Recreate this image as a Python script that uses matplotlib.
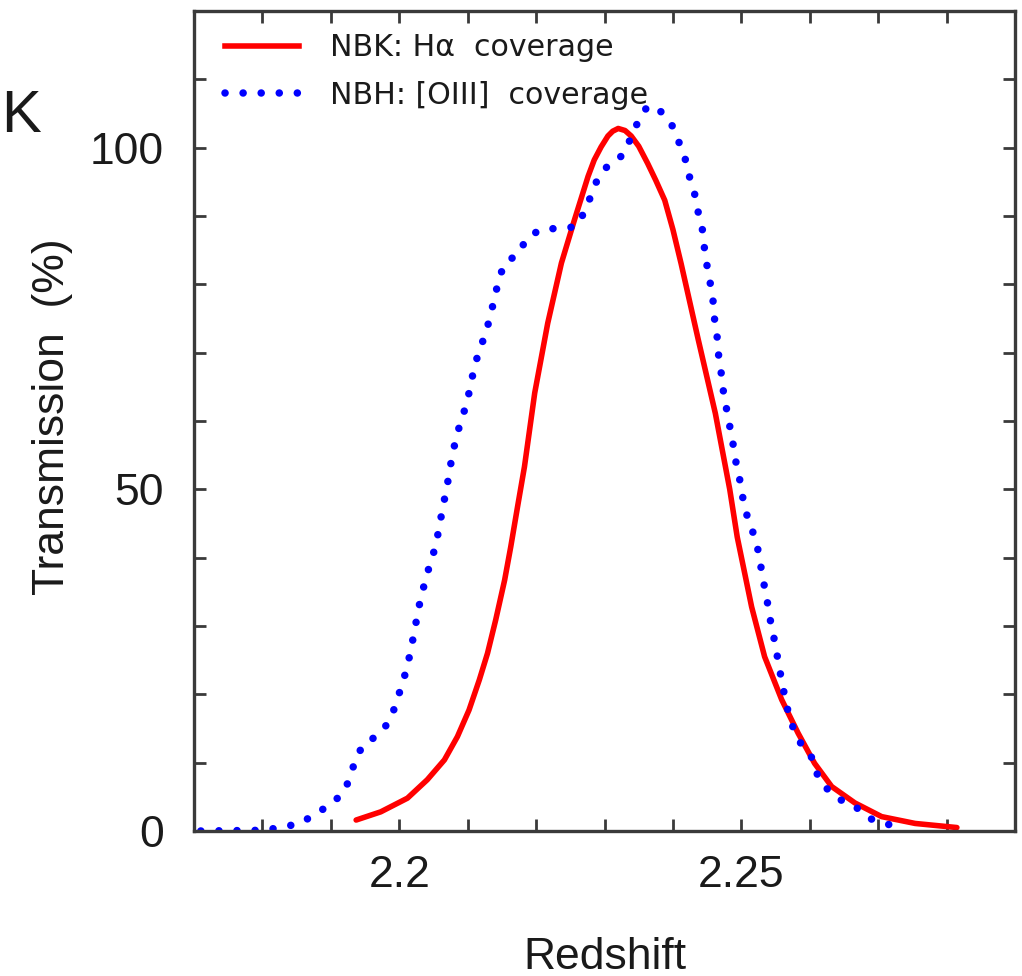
import numpy as np
import matplotlib
matplotlib.use("Agg")
import matplotlib.pyplot as plt
from matplotlib.ticker import MultipleLocator
from matplotlib.lines import Line2D

# NBK filter: H-alpha coverage (redshift, transmission %)
nbk_z = [2.1937, 2.1973, 2.2012, 2.2041, 2.2066, 2.2085, 2.2102, 2.2117, 2.2129,
         2.2141, 2.2154, 2.2163, 2.2173, 2.2183, 2.2198, 2.2217, 2.2237, 2.2256,
         2.2276, 2.2285, 2.2295, 2.2305, 2.2312, 2.2320, 2.2330, 2.2339, 2.2350,
         2.2363, 2.2375, 2.2388, 2.2400, 2.2412, 2.2437, 2.2462,
         2.2472, 2.2483, 2.2494, 2.2515, 2.2534, 2.2559, 2.2583, 2.2607, 2.2632,
         2.2666, 2.2705, 2.2754, 2.2815]
nbk_t = [1.6, 2.8, 4.8, 7.5, 10.4, 13.8, 17.7, 22.1, 26.0,
         30.9, 36.7, 41.6, 47.5, 53.3, 64.1, 74.3, 83.1, 89.4,
         95.8, 98.2, 100.1, 101.7, 102.4, 102.8, 102.5, 101.7, 100.2,
         97.7, 95.2, 92.3, 88.0, 83.0, 71.9, 61.1,
         55.8, 50.0, 43.0, 32.8, 25.5, 19.2, 14.3, 9.9, 6.5,
         4.1, 2.1, 1.1, 0.5]

# NBH filter: [OIII] coverage
nbh_z = [2.1710, 2.1800, 2.1827, 2.1854, 2.1877, 2.1899, 2.1917, 2.1928, 2.1935,
         2.1947, 2.1967, 2.1984, 2.1994, 2.2002, 2.2010, 2.2016, 2.2021, 2.2026,
         2.2031, 2.2038, 2.2045, 2.2053, 2.2058, 2.2063, 2.2068, 2.2073, 2.2077,
         2.2083, 2.2090, 2.2099, 2.2104, 2.2110, 2.2117, 2.2127, 2.2133, 2.2140,
         2.2145, 2.2155, 2.2174, 2.2186, 2.2206, 2.2233, 2.2258, 2.2272, 2.2281,
         2.2291, 2.2307, 2.2327, 2.2338, 2.2349, 2.2363, 2.2382, 2.2398, 2.2408,
         2.2418, 2.2424, 2.2432, 2.2437, 2.2443, 2.2446, 2.2450, 2.2455, 2.2459,
         2.2461, 2.2465, 2.2467, 2.2471, 2.2474, 2.2479, 2.2484, 2.2489, 2.2493,
         2.2499, 2.2503, 2.2510, 2.2520, 2.2526, 2.2530, 2.2535, 2.2540, 2.2544,
         2.2550, 2.2554, 2.2559, 2.2564, 2.2570, 2.2579, 2.2591, 2.2605, 2.2612,
         2.2625, 2.2644, 2.2665, 2.2686, 2.2707, 2.2734]
nbh_t = [0.0, 0.1, 0.5, 1.1, 2.4, 3.9, 5.4, 7.7, 10.2,
         12.6, 13.9, 15.8, 18.2, 20.8, 23.4, 26.0, 28.6, 31.3,
         33.9, 36.6, 39.1, 41.6, 44.2, 47.0, 49.5, 52.2, 54.8,
         57.4, 60.0, 62.6, 65.2, 67.9, 70.4, 72.9, 75.5, 78.1,
         80.7, 83.2, 84.4, 86.7, 88.0, 88.2, 88.4, 90.8, 93.2,
         95.7, 97.6, 98.9, 101.3, 103.8, 106.1, 105.3, 103.4, 101.0,
         98.3, 95.8, 93.1, 90.5, 88.0, 85.3, 82.6, 79.9, 77.3,
         74.7, 72.0, 69.3, 66.7, 64.1, 61.4, 58.7, 56.0, 53.4,
         50.8, 48.2, 45.5, 42.9, 40.4, 37.7, 35.1, 32.4, 29.8,
         27.2, 24.6, 22.0, 19.4, 16.7, 14.2, 12.1, 10.5, 7.9,
         6.2, 4.6, 3.7, 1.9, 1.1, 0.6]

x_ticks = [2.2, 2.25]
x_ticklabels = ["2.2", "2.25"]
y_ticks = [0, 50, 100]
y_ticklabels = ["0", "50", "100"]
labels = ["NBK: H\u03b1  coverage", "NBH: [OIII]  coverage"]

plt.rcParams["font.family"] = ["Liberation Sans", "DejaVu Sans"]
spine_col = "#3a3a3a"

fig = plt.figure(figsize=(10.22, 9.76), dpi=100)
ax = fig.add_axes([0.1898, 0.1486, 0.8034, 0.8402])

dots = (0, (0.01, 2.4))
ax.plot(nbk_z, nbk_t, color="#ff0000", lw=4.0, solid_capstyle="round",
        solid_joinstyle="round")
ax.plot(nbh_z, nbh_t, color="#0000ff", lw=5.4, linestyle=dots, dash_capstyle="round")

ax.set_xlim(2.17, 2.29)
ax.set_ylim(0, 120)

ax.set_xticks(x_ticks, labels=x_ticklabels)
ax.set_yticks(y_ticks, labels=y_ticklabels)
ax.xaxis.set_minor_locator(MultipleLocator(0.01))
ax.yaxis.set_minor_locator(MultipleLocator(10))
ax.tick_params(which="both", direction="in", top=True, right=True,
               length=8.6, width=2.0, color=spine_col, labelsize=32,
               labelcolor="#1a1a1a")
ax.tick_params(axis="x", which="major", pad=17)
ax.tick_params(axis="y", which="major", pad=21.5)

for s in ax.spines.values():
    s.set_linewidth(2.4)
    s.set_color(spine_col)

ax.set_xlabel("Redshift", fontsize=32, color="#1a1a1a")
ax.set_ylabel("Transmission  (%)", fontsize=32, color="#1a1a1a")
ax.xaxis.set_label_coords(0.5, -0.129)
ax.yaxis.set_label_coords(-0.147, 0.505)

handles = [
    Line2D([], [], color="#ff0000", lw=4.0),
    Line2D([], [], color="#0000ff", lw=5.4, linestyle=dots, dash_capstyle="round"),
]
ax.legend(handles, labels, loc="upper left", bbox_to_anchor=(0.0378, 0.973),
          frameon=False, borderpad=0, borderaxespad=0, handlelength=2.45,
          handletextpad=1.05, labelspacing=0.63,
          prop={"family": "DejaVu Sans", "size": 21.6}, labelcolor="#1a1a1a")

# cropped panel letter from the neighbouring figure
fig.text(0.001, 0.8648, "K", fontsize=43, color="#1a1a1a", va="baseline")

fig.savefig("out.png", dpi=100, facecolor="white")
